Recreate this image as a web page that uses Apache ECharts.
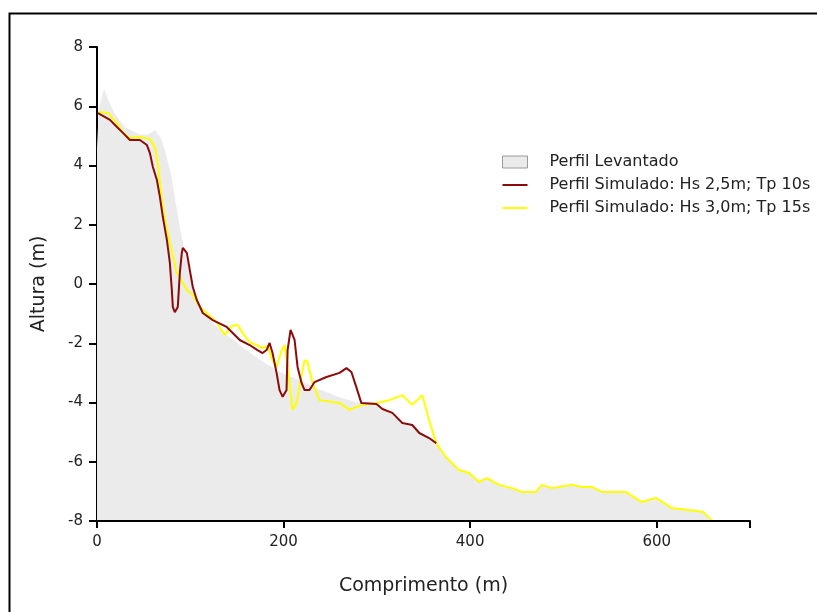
<!DOCTYPE html>
<html><head><meta charset="utf-8">
<script src="https://cdn.jsdelivr.net/npm/echarts@6/dist/echarts.min.js"></script>
<style>html,body{margin:0;padding:0;background:#fff}#c{width:817px;height:612px}</style>
</head><body><div id="c"></div>
<script>
const xTicks = [0, 200, 400, 600];
const yTicks = [-8, -6, -4, -2, 0, 2, 4, 6, 8];
const seriesNames = ['Perfil Levantado', 'Perfil Simulado: Hs 2,5m; Tp 10s', 'Perfil Simulado: Hs 3,0m; Tp 15s'];

const levantadoX = [0,2,7.5,12,19,30,46,55,62,68,72,77,80,84,89,94,99.5,105,110,125,140,155,174,195,217,238,260,281,300,316.6,327.3,338,345.5,356,363.6,374,388,399,409.6,418,431,445,455.6,470.6,477,487.7,509,519.8,530.5,541,566.8,584,599,616,634,650,658.8];
const levantadoY = [4.6,5.9,6.6,6.2,5.75,5.3,5.05,5.05,5.2,4.95,4.6,4.0,3.6,2.8,1.9,1.1,0.45,-0.25,-0.85,-1.35,-1.75,-2.1,-2.55,-2.95,-3.25,-3.55,-3.82,-4.02,-4.12,-4.4,-4.74,-4.8,-5.07,-5.24,-5.4,-5.86,-6.3,-6.4,-6.7,-6.57,-6.8,-6.91,-7.04,-7.04,-6.8,-6.91,-6.8,-6.87,-6.87,-7.04,-7.04,-7.38,-7.24,-7.58,-7.65,-7.72,-8];

const sim25X = [1.1,13.9,21.4,27.8,35.3,46,53.5,56.7,59.9,64.2,67.4,70.6,74.9,78.1,80.2,81.3,83.4,86.6,88.8,90.9,92,96.3,99.5,102.7,107,113.4,124,139,153,163.6,172,177.5,181.8,185,188.2,192.5,195.7,199,203.2,204.3,207.5,211.8,215,219.3,222.5,227.8,233.2,246,260,267.4,272.7,278,283.4,299.5,306,316.6,327.3,338,345.5,356,363.6];
const sim25Y = [5.77,5.54,5.30,5.10,4.86,4.86,4.69,4.42,3.95,3.51,2.94,2.26,1.49,0.71,-0.2,-0.78,-0.95,-0.78,0.37,1.05,1.22,1.05,0.47,-0.1,-0.54,-0.98,-1.22,-1.45,-1.89,-2.06,-2.23,-2.33,-2.23,-1.99,-2.33,-3.0,-3.58,-3.81,-3.58,-2.23,-1.55,-1.89,-2.8,-3.34,-3.58,-3.58,-3.31,-3.14,-3.0,-2.84,-2.97,-3.48,-4.02,-4.05,-4.22,-4.35,-4.69,-4.76,-5.03,-5.2,-5.37];

const sim30X = [1.1,11.8,21.4,27.8,35.3,46,56.7,62,65.2,67.4,70.6,74.9,78.1,85.6,92,96.3,102.7,110,117.6,128,137,144.4,150.8,156,163.6,171,177.5,183,188,192.5,198,201,204.3,209.6,214,217,222.5,225.7,231,238.5,252.4,260,270.6,278,284.5,299.5,313.4,327.3,338,348.7,356,363.6,374,388,399,409.6,418,431,445,455.6,470.6,477,487.7,509,519.8,530.5,541,566.8,584,599,616,634,650,658.8];
const sim30Y = [5.81,5.77,5.43,5.10,4.93,4.96,4.89,4.62,4.08,3.4,2.6,1.82,1.38,0.37,0.03,-0.2,-0.37,-0.78,-0.98,-1.28,-1.72,-1.42,-1.38,-1.65,-1.96,-2.06,-2.16,-2.09,-2.57,-2.8,-2.23,-2.06,-2.73,-4.25,-4.02,-3.48,-2.57,-2.63,-3.34,-3.92,-3.98,-4.02,-4.25,-4.15,-4.08,-4.02,-3.92,-3.75,-4.08,-3.75,-4.59,-5.37,-5.84,-6.28,-6.38,-6.68,-6.55,-6.78,-6.89,-7.02,-7.02,-6.78,-6.89,-6.78,-6.85,-6.85,-7.02,-7.02,-7.36,-7.22,-7.56,-7.63,-7.7,-7.97];

function pairs(xs, ys) { return xs.map((x, i) => [x, ys[i]]); }

const FONT = 'DejaVu Sans';
const chart = echarts.init(document.getElementById('c'), null, {renderer: 'canvas'});
chart.setOption({
  animation: false,
  backgroundColor: '#ffffff',
  graphic: [{
    type: 'rect', left: 7, top: 11, z: 100, silent: true,
    shape: {width: 830, height: 620},
    style: {fill: 'none', stroke: '#000', lineWidth: 2}
  }],
  grid: {left: 97, right: 67, top: 47, bottom: 91},
  legend: {
    orient: 'vertical', left: 497, top: 148, itemGap: 5,
    itemWidth: 25, itemHeight: 12,
    textStyle: {fontFamily: FONT, fontSize: 16, lineHeight: 18, color: '#222', padding: [0, 0, 0, 17]},
    data: [
      {name: seriesNames[0], icon: 'rect', itemStyle: {color: '#ebebeb', borderColor: '#9a9a9a', borderWidth: 1}},
      {name: seriesNames[1], icon: 'path://M0,0 L25,0 L25,2 L0,2 Z', itemStyle: {color: '#8b0a0a'}},
      {name: seriesNames[2], icon: 'path://M0,0 L25,0 L25,2 L0,2 Z', itemStyle: {color: '#ffff00'}}
    ]
  },
  xAxis: {
    type: 'value', min: 0, max: 700, interval: 200, z: 5,
    name: 'Comprimento (m)', nameLocation: 'middle', nameGap: 56,
    nameTextStyle: {fontFamily: FONT, fontSize: 19, color: '#222'},
    axisLine: {show: true, onZero: false, lineStyle: {color: '#000', width: 2}},
    axisTick: {show: true, length: 7, lineStyle: {color: '#000', width: 2}},
    axisLabel: {fontFamily: FONT, fontSize: 15, color: '#222', margin: 14,
      formatter: v => xTicks.includes(v) ? String(v) : ''},
    splitLine: {show: false}
  },
  yAxis: {
    type: 'value', min: -8, max: 8, interval: 2, z: 0,
    name: 'Altura (m)', nameLocation: 'middle', nameGap: 48, nameRotate: 90,
    nameTextStyle: {fontFamily: FONT, fontSize: 19, color: '#222'},
    axisLine: {show: true, onZero: false, lineStyle: {color: '#000', width: 2}},
    axisTick: {show: true, length: 8, lineStyle: {color: '#000', width: 2}},
    axisLabel: {fontFamily: FONT, fontSize: 15, color: '#222', margin: 14,
      formatter: v => yTicks.includes(v) ? String(v) : ''},
    splitLine: {show: false}
  },
  series: [
    {name: seriesNames[0], type: 'line', data: pairs(levantadoX, levantadoY), showSymbol: false,
      lineStyle: {width: 0, color: '#ebebeb'}, itemStyle: {color: '#ebebeb'},
      areaStyle: {color: '#ebebeb', opacity: 1, origin: 'start'}, z: 2},
    {name: seriesNames[1], type: 'line', data: pairs(sim25X, sim25Y), showSymbol: false,
      lineStyle: {width: 2, color: '#8b0a0a'}, itemStyle: {color: '#8b0a0a'}, z: 4},
    {name: seriesNames[2], type: 'line', data: pairs(sim30X, sim30Y), showSymbol: false,
      lineStyle: {width: 2, color: '#ffff00'}, itemStyle: {color: '#ffff00'}, z: 3}
  ]
});
</script></body></html>
